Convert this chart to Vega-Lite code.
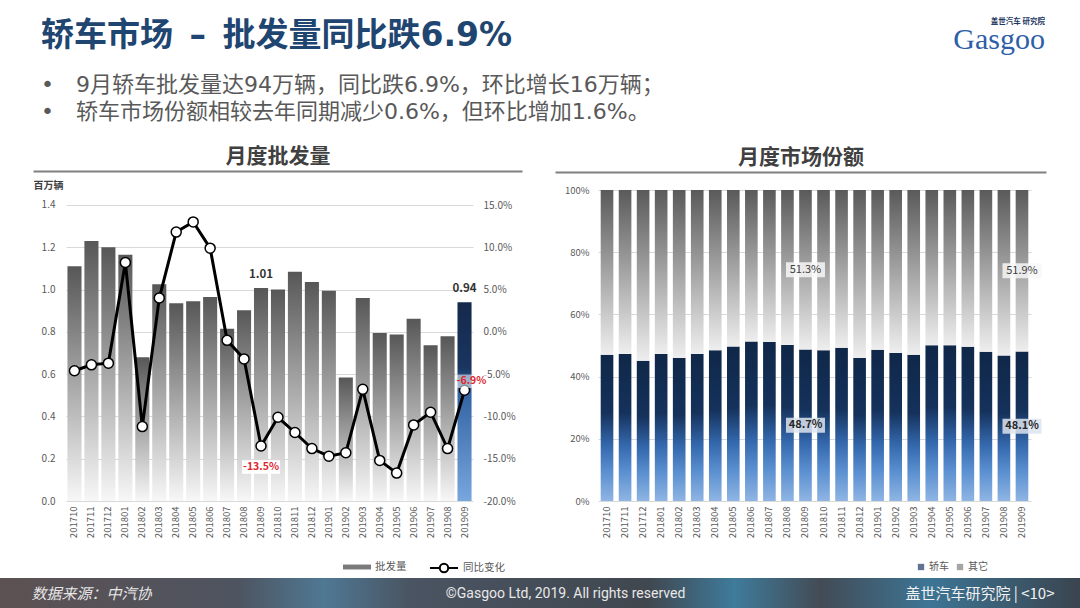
{
  "$schema": "https://vega.github.io/schema/vega-lite/v6.json",
  "background": "#ffffff",
  "padding": {"left": 0, "right": 0, "top": 17, "bottom": 0},
  "spacing": 0,
  "columns": 1,
  "resolve": {"scale": {"color": "independent", "stroke": "independent"}, "legend": {"color": "independent", "stroke": "independent"}},
  "datasets": {
    "vol": [
      {"m": "201710", "vol": 1.11, "yoy": -0.046},
      {"m": "201711", "vol": 1.23, "yoy": -0.039},
      {"m": "201712", "vol": 1.20, "yoy": -0.037},
      {"m": "201801", "vol": 1.165, "yoy": 0.082},
      {"m": "201802", "vol": 0.68, "yoy": -0.112},
      {"m": "201803", "vol": 1.025, "yoy": 0.040},
      {"m": "201804", "vol": 0.935, "yoy": 0.118},
      {"m": "201805", "vol": 0.945, "yoy": 0.130},
      {"m": "201806", "vol": 0.965, "yoy": 0.099},
      {"m": "201807", "vol": 0.815, "yoy": -0.010},
      {"m": "201808", "vol": 0.902, "yoy": -0.032},
      {"m": "201809", "vol": 1.007, "yoy": -0.135},
      {"m": "201810", "vol": 1.00, "yoy": -0.101},
      {"m": "201811", "vol": 1.084, "yoy": -0.119},
      {"m": "201812", "vol": 1.036, "yoy": -0.138},
      {"m": "201901", "vol": 0.994, "yoy": -0.147},
      {"m": "201902", "vol": 0.584, "yoy": -0.143},
      {"m": "201903", "vol": 0.96, "yoy": -0.068},
      {"m": "201904", "vol": 0.794, "yoy": -0.152},
      {"m": "201905", "vol": 0.788, "yoy": -0.167},
      {"m": "201906", "vol": 0.862, "yoy": -0.110},
      {"m": "201907", "vol": 0.737, "yoy": -0.095},
      {"m": "201908", "vol": 0.779, "yoy": -0.138},
      {"m": "201909", "vol": 0.94, "yoy": -0.069}
    ],
    "share": [
      {"m": "201710", "轿车": 0.470, "其它": 0.530},
      {"m": "201711", "轿车": 0.473, "其它": 0.527},
      {"m": "201712", "轿车": 0.451, "其它": 0.549},
      {"m": "201801", "轿车": 0.473, "其它": 0.527},
      {"m": "201802", "轿车": 0.460, "其它": 0.540},
      {"m": "201803", "轿车": 0.473, "其它": 0.527},
      {"m": "201804", "轿车": 0.485, "其它": 0.515},
      {"m": "201805", "轿车": 0.497, "其它": 0.503},
      {"m": "201806", "轿车": 0.513, "其它": 0.487},
      {"m": "201807", "轿车": 0.511, "其它": 0.489},
      {"m": "201808", "轿车": 0.502, "其它": 0.498},
      {"m": "201809", "轿车": 0.487, "其它": 0.513},
      {"m": "201810", "轿车": 0.485, "其它": 0.515},
      {"m": "201811", "轿车": 0.493, "其它": 0.507},
      {"m": "201812", "轿车": 0.460, "其它": 0.540},
      {"m": "201901", "轿车": 0.486, "其它": 0.514},
      {"m": "201902", "轿车": 0.476, "其它": 0.524},
      {"m": "201903", "轿车": 0.470, "其它": 0.530},
      {"m": "201904", "轿车": 0.501, "其它": 0.499},
      {"m": "201905", "轿车": 0.501, "其它": 0.499},
      {"m": "201906", "轿车": 0.496, "其它": 0.504},
      {"m": "201907", "轿车": 0.480, "其它": 0.520},
      {"m": "201908", "轿车": 0.468, "其它": 0.532},
      {"m": "201909", "轿车": 0.481, "其它": 0.519}
    ]
  },
  "concat": [
    {
      "columns": 2,
      "spacing": 20,
      "concat": [
        {
          "width": 920, "height": 1,
          "data": {"values": []},
          "mark": "point",
          "title": {
            "text": "轿车市场\u2002–\u2002批发量同比跌6.9%",
            "subtitle": ["•\u20039月轿车批发量达94万辆，同比跌6.9%，环比增长16万辆；", "•\u2003轿车市场份额相较去年同期减少0.6%，但环比增加1.6%。"],
            "anchor": "start", "dx": 41, "offset": 20,
            "font": "DejaVu Sans, Noto Sans CJK SC", "fontSize": 33, "fontWeight": "bold", "color": "#1f4571",
            "subtitleFont": "DejaVu Sans, Noto Sans CJK SC", "subtitleFontSize": 22, "subtitleColor": "#595959",
            "subtitleLineHeight": 27, "subtitlePadding": 22
          }
        },
        {
          "width": 105, "height": 1,
          "data": {"values": []},
          "mark": "point",
          "title": {
            "text": "盖世汽车 研究院", "subtitle": "Gasgoo",
            "anchor": "end", "offset": 88,
            "font": "Noto Sans CJK SC", "fontSize": 7.5, "fontWeight": "bold", "color": "#1f3864",
            "subtitleFont": "Liberation Serif", "subtitleFontSize": 30, "subtitleColor": "#2d5ea8",
            "subtitlePadding": 0
          }
        }
      ]
    },
    {
      "columns": 3,
      "spacing": 7,
      "resolve": {"scale": {"color": "independent", "stroke": "independent"}, "legend": {"color": "independent", "stroke": "independent"}},
      "concat": [
        {
          "width": 25, "height": 1,
          "data": {"values": []},
          "mark": "point"
        },
        {
          "width": 407, "height": 311,
          "data": {"name": "vol"},
          "layer": [
            {
              "layer": [
                {
                  "transform": [{"filter": "datum.m !== '201909'"}],
                  "mark": {"type": "bar", "color": {"gradient": "linear", "x1": 0, "y1": 0, "x2": 0, "y2": 1,
                                                    "stops": [{"offset": 0, "color": "#575757"}, {"offset": 1, "color": "#f7f7f7"}]}},
                  "encoding": {
                    "x": {"field": "m", "type": "ordinal", "title": null, "scale": {"paddingInner": 0.17, "paddingOuter": 0.085},
                          "axis": {"orient": "bottom", "labelAngle": 270, "labelPadding": 5, "labelFontSize": 9.5}},
                    "y": {"field": "vol", "type": "quantitative", "title": "百万辆", "scale": {"domain": [0, 1.4709], "nice": false},
                          "axis": {"values": [0, 0.2, 0.4, 0.6, 0.8, 1.0, 1.2, 1.4], "format": ".1f", "grid": true, "orient": "left",
                                   "titleAngle": 0, "titleX": -33, "titleY": -5, "titleAlign": "left", "titleBaseline": "middle",
                                   "titleFontSize": 10, "titleFontWeight": "bold", "titleColor": "#404040", "titleFont": "Noto Sans CJK SC", "labelPadding": 11}}
                  }
                },
                {
                  "transform": [{"filter": "datum.m === '201909'"}],
                  "mark": {"type": "bar", "color": {"gradient": "linear", "x1": 0, "y1": 0, "x2": 0, "y2": 1,
                                                    "stops": [{"offset": 0, "color": "#15294b"}, {"offset": 0.33, "color": "#1a3560"}, {"offset": 0.42, "color": "#2e5f9e"}, {"offset": 1, "color": "#78a6df"}]}},
                  "encoding": {
                    "x": {"field": "m", "type": "ordinal", "title": null},
                    "y": {"field": "vol", "type": "quantitative", "title": "百万辆"}
                  }
                },
                {
                  "transform": [{"filter": "false"}],
                  "mark": {"type": "bar"},
                  "encoding": {
                    "x": {"field": "m", "type": "ordinal", "title": null},
                    "y": {"field": "vol", "type": "quantitative", "title": "百万辆"},
                    "color": {"datum": "批发量", "scale": {"domain": ["批发量"], "range": ["#7a7a7a"]},
                              "legend": {
                                "title": null, "orient": "none", "legendX": 284, "legendY": 370, "direction": "horizontal",
                                "symbolType": "M-2,-0.35H2V0.35H-2Z", "symbolSize": 196, "labelOffset": 11,
                                "symbolStrokeColor": "transparent", "symbolStrokeWidth": 0,
                                "labelFont": "Noto Sans CJK SC", "labelFontSize": 10.5, "labelColor": "#595959"
                              }}
                  }
                },
                {
                  "transform": [{"filter": "datum.m === '201809' || datum.m === '201909'"}],
                  "mark": {"type": "text", "dy": -8, "baseline": "bottom", "fontWeight": "bold", "fontSize": 11.5, "color": "#333333", "font": "Noto Sans CJK SC"},
                  "encoding": {
                    "x": {"field": "m", "type": "ordinal", "title": null},
                    "y": {"field": "vol", "type": "quantitative", "title": "百万辆"},
                    "text": {"field": "vol", "type": "quantitative", "format": ".2f"}
                  }
                }
              ]
            },
            {
              "layer": [
                {
                  "mark": {"type": "line", "strokeWidth": 3, "color": "#000000"},
                  "encoding": {
                    "x": {"field": "m", "type": "ordinal", "title": null, "scale": {"paddingInner": 0.17, "paddingOuter": 0.085}, "axis": null},
                    "y": {"field": "yoy", "type": "quantitative", "title": null, "scale": {"domain": [-0.2, 0.16774], "nice": false},
                          "axis": {"orient": "right", "values": [-0.2, -0.15, -0.1, -0.05, 0, 0.05, 0.1, 0.15], "format": ".1%", "grid": false, "labelPadding": 10}}
                  }
                },
                {
                  "transform": [{"filter": "false"}],
                  "mark": {"type": "line", "strokeWidth": 3},
                  "encoding": {
                    "x": {"field": "m", "type": "ordinal", "title": null, "axis": null},
                    "y": {"field": "yoy", "type": "quantitative", "title": null},
                    "stroke": {"datum": "同比变化", "scale": {"domain": ["同比变化"], "range": ["#000000"]},
                               "legend": {
                                 "title": null, "orient": "none", "legendX": 370, "legendY": 370, "direction": "horizontal",
                                 "symbolType": "M-2,0H-0.6M0.6,0H2M-0.6,0A0.6,0.6 0 1,1 0.6,0A0.6,0.6 0 1,1 -0.6,0Z",
                                 "symbolSize": 196, "symbolFillColor": "#ffffff", "symbolStrokeWidth": 2, "labelOffset": 11,
                                 "labelFont": "Noto Sans CJK SC", "labelFontSize": 10.5, "labelColor": "#595959"
                               }}
                  }
                },
                {
                  "mark": {"type": "point", "filled": true, "fill": "#ffffff", "stroke": "#000000", "strokeWidth": 1.5, "size": 100, "opacity": 1},
                  "encoding": {
                    "x": {"field": "m", "type": "ordinal", "title": null, "axis": null},
                    "y": {"field": "yoy", "type": "quantitative", "title": null}
                  }
                },
                {
                  "transform": [{"filter": "datum.m === '201809'"}],
                  "mark": {"type": "point", "shape": "M-1.4,-0.5H1.4V0.5H-1.4Z", "size": 740, "filled": true, "fill": "#ffffff", "opacity": 1, "strokeWidth": 0, "yOffset": 21},
                  "encoding": {"x": {"field": "m", "type": "ordinal", "title": null, "axis": null}, "y": {"field": "yoy", "type": "quantitative", "title": null}}
                },
                {
                  "transform": [{"filter": "datum.m === '201809'"}],
                  "mark": {"type": "text", "dy": 21, "baseline": "middle", "fontWeight": "bold", "fontSize": 10.5, "color": "#e0262c", "font": "Noto Sans CJK SC"},
                  "encoding": {"x": {"field": "m", "type": "ordinal", "title": null, "axis": null}, "y": {"field": "yoy", "type": "quantitative", "title": null}, "text": {"field": "yoy", "type": "quantitative", "format": ".1%"}}
                },
                {
                  "transform": [{"filter": "datum.m === '201909'"}],
                  "mark": {"type": "point", "shape": "M-1.2,-0.5H1.2V0.5H-1.2Z", "size": 740, "filled": true, "fill": "#ffffff", "opacity": 0.55, "strokeWidth": 0, "xOffset": 7, "yOffset": -9},
                  "encoding": {"x": {"field": "m", "type": "ordinal", "title": null, "axis": null}, "y": {"field": "yoy", "type": "quantitative", "title": null}}
                },
                {
                  "transform": [{"filter": "datum.m === '201909'"}],
                  "mark": {"type": "text", "dx": 7, "dy": -9, "baseline": "middle", "fontWeight": "bold", "fontSize": 10.5, "color": "#e0262c", "font": "Noto Sans CJK SC"},
                  "encoding": {"x": {"field": "m", "type": "ordinal", "title": null, "axis": null}, "y": {"field": "yoy", "type": "quantitative", "title": null}, "text": {"field": "yoy", "type": "quantitative", "format": ".1%"}}
                }
              ]
            },
            {
              "transform": [{"filter": "false"}],
              "mark": {"type": "point"},
              "encoding": {
                "x": {"field": "vol", "type": "quantitative", "scale": {"domain": [0, 1], "range": [-33, 456], "nice": false},
                      "axis": {"orient": "top", "offset": 19, "values": [], "labels": false, "ticks": false, "grid": false,
                               "domain": true, "domainColor": "#808080", "domainWidth": 2,
                               "title": "月度批发量", "titleFont": "Noto Sans CJK SC", "titleFontSize": 21, "titleFontWeight": "bold",
                               "titleColor": "#404040", "titlePadding": 5}}
              }
            }
          ],
          "resolve": {"scale": {"x": "independent", "y": "independent"}}
        },
        {
          "width": 433, "height": 311,
          "data": {"name": "share"},
          "layer": [
            {
              "layer": [
                {
                  "mark": {"type": "bar", "color": {"gradient": "linear", "x1": 0, "y1": 0, "x2": 0, "y2": 1,
                                                    "stops": [{"offset": 0, "color": "#0f2748"}, {"offset": 0.4, "color": "#15325c"}, {"offset": 0.62, "color": "#3468ad"}, {"offset": 0.8, "color": "#5a8fd0"}, {"offset": 1, "color": "#8fb5e3"}]}},
                  "encoding": {
                    "x": {"field": "m", "type": "ordinal", "title": null, "scale": {"paddingInner": 0.3, "paddingOuter": 0.15},
                          "axis": {"orient": "bottom", "labelAngle": 270, "labelPadding": 5, "labelFontSize": 9.5}},
                    "y": {"field": "轿车", "type": "quantitative", "title": null, "scale": {"domain": [0, 1], "nice": false},
                          "axis": {"values": [0, 0.1, 0.2, 0.3, 0.4, 0.5, 0.6, 0.7, 0.8, 0.9, 1], "format": ".0%", "grid": true,
                                   "labelPadding": 9, "labelFontSize": 9.5}}
                  }
                },
                {
                  "mark": {"type": "bar", "color": {"gradient": "linear", "x1": 0, "y1": 0, "x2": 0, "y2": 1,
                                                    "stops": [{"offset": 0, "color": "#5a5a5a"}, {"offset": 1, "color": "#eeeeee"}]}},
                  "encoding": {
                    "x": {"field": "m", "type": "ordinal", "title": null},
                    "y": {"field": "轿车", "type": "quantitative", "title": null},
                    "y2": {"datum": 1}
                  }
                },
                {
                  "transform": [{"filter": "false"}],
                  "mark": {"type": "square"},
                  "encoding": {
                    "color": {"field": "key", "type": "nominal",
                              "scale": {"domain": ["轿车", "其它"], "range": ["#1f3864", "#7f7f7f"]},
                              "legend": {
                                "title": null, "orient": "none", "legendX": 318, "legendY": 372, "direction": "horizontal",
                                "symbolType": "square", "symbolSize": 40, "labelOffset": 3, "columnPadding": 6,
                                "labelFont": "Noto Sans CJK SC", "labelFontSize": 10, "labelColor": "#595959"
                              }}
                  }
                },
                {
                  "transform": [{"fold": ["轿车", "其它"], "as": ["key", "value"]}, {"filter": "datum.m === '201809' || datum.m === '201909'"}],
                  "mark": {"type": "point", "shape": "M-1.3,-0.5H1.3V0.5H-1.3Z", "size": 900, "filled": true, "strokeWidth": 0, "opacity": 0.85},
                  "encoding": {
                    "x": {"field": "m", "type": "ordinal", "title": null},
                    "y": {"field": "value", "type": "quantitative", "title": null, "stack": "zero", "bandPosition": 0.5},
                    "fill": {"condition": {"test": "datum.key === '轿车'", "value": "#dde4ee"}, "value": "#f7f7f7"},
                    "order": {"field": "key", "sort": "descending"}
                  }
                },
                {
                  "transform": [{"fold": ["轿车", "其它"], "as": ["key", "value"]}, {"filter": "datum.m === '201809' || datum.m === '201909'"}],
                  "mark": {"type": "text", "baseline": "middle", "fontSize": 11, "font": "Noto Sans CJK SC",
                           "fontWeight": {"expr": "datum.key === '轿车' ? 'bold' : 'normal'"}},
                  "encoding": {
                    "x": {"field": "m", "type": "ordinal", "title": null},
                    "y": {"field": "value", "type": "quantitative", "title": null, "stack": "zero", "bandPosition": 0.5},
                    "text": {"field": "value", "type": "quantitative", "format": ".1%"},
                    "color": {"condition": {"test": "datum.key === '轿车'", "value": "#262626"}, "value": "#404040"},
                    "order": {"field": "key", "sort": "descending"}
                  }
                }
              ]
            },
            {
              "transform": [{"filter": "false"}],
              "mark": {"type": "point"},
              "encoding": {
                "x": {"field": "轿车", "type": "quantitative", "scale": {"domain": [0, 1], "range": [-43, 448], "nice": false},
                      "axis": {"orient": "top", "offset": 18, "values": [], "labels": false, "ticks": false, "grid": false,
                               "domain": true, "domainColor": "#808080", "domainWidth": 2,
                               "title": "月度市场份额", "titleFont": "Noto Sans CJK SC", "titleFontSize": 21, "titleFontWeight": "bold",
                               "titleColor": "#404040", "titlePadding": 5}}
              }
            }
          ],
          "resolve": {"scale": {"x": "independent"}}
        }
      ]
    },
    {
      "width": 1080, "height": 32,
      "view": {"stroke": null},
      "layer": [
        {
          "data": {"values": [{}]},
          "mark": {"type": "rect", "color": {"gradient": "linear", "x1": 0, "y1": 0, "x2": 1, "y2": 0,
                        "stops": [{"offset": 0, "color": "#5c5152"}, {"offset": 0.22, "color": "#4e5460"}, {"offset": 0.3, "color": "#4f7893"},
                                  {"offset": 0.38, "color": "#4a5462"}, {"offset": 0.6, "color": "#40474f"}, {"offset": 0.68, "color": "#3f7b9b"},
                                  {"offset": 0.76, "color": "#434b55"}, {"offset": 0.86, "color": "#3d7595"}, {"offset": 1, "color": "#3a444f"}]}},
          "encoding": {}
        },
        {
          "data": {"values": [{"t": "数据来源：中汽协"}]},
          "mark": {"type": "text", "align": "left", "baseline": "middle", "font": "Noto Sans CJK SC", "fontSize": 15, "fontStyle": "italic", "color": "#e6e6e6"},
          "encoding": {
            "x": {"datum": 32, "type": "quantitative", "scale": {"domain": [0, 1080]}, "axis": null},
            "text": {"field": "t"}
          }
        },
        {
          "data": {"values": [{"t": "©Gasgoo Ltd, 2019. All rights reserved"}]},
          "mark": {"type": "text", "align": "center", "baseline": "middle", "font": "Liberation Sans Narrow, Roboto, sans-serif", "fontSize": 14, "color": "#e8e8e8"},
          "encoding": {
            "x": {"datum": 576, "type": "quantitative"},
            "text": {"field": "t"}
          }
        },
        {
          "data": {"values": [{"t": "盖世汽车研究院 | <10>"}]},
          "mark": {"type": "text", "align": "right", "baseline": "middle", "font": "Noto Sans CJK SC", "fontSize": 15, "color": "#f2f2f2"},
          "encoding": {
            "x": {"datum": 1074, "type": "quantitative"},
            "text": {"field": "t"}
          }
        }
      ]
    }
  ],
  "config": {
    "view": {"stroke": "transparent"},
    "font": "Noto Sans CJK SC",
    "locale": {"number": {"decimal": ".", "thousands": ",", "grouping": [3], "currency": ["$", ""], "minus": "-"}},
    "axis": {"labelFont": "Noto Sans CJK SC", "labelColor": "#595959", "labelFontSize": 10, "ticks": false, "domain": false, "gridColor": "#d9d9d9", "gridWidth": 1}
  }
}
